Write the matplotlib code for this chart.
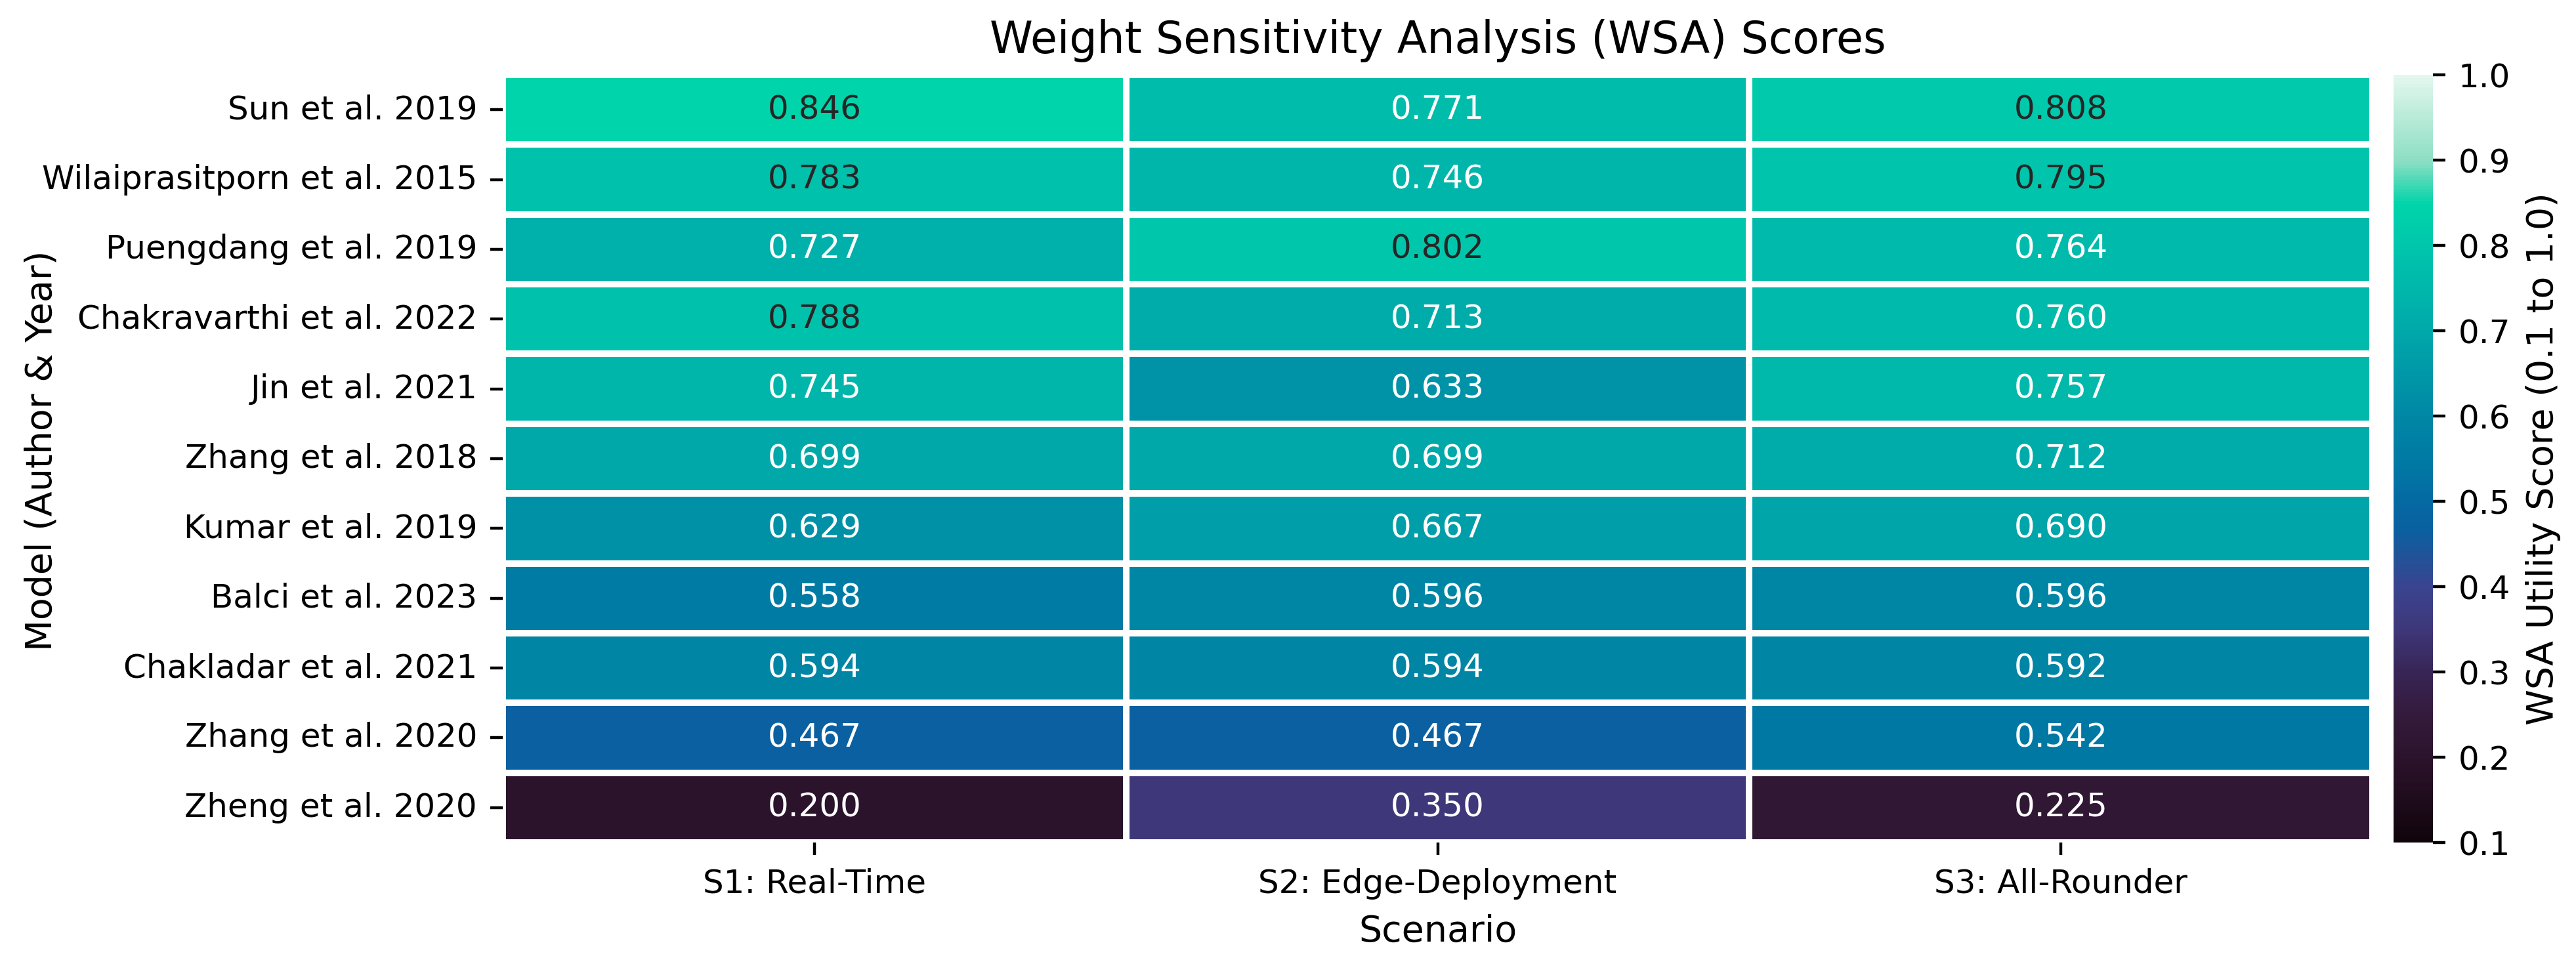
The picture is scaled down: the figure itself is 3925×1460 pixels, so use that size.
import numpy as np
import pandas as pd
import matplotlib
matplotlib.use("Agg")
import matplotlib.pyplot as plt
import seaborn as sns
from matplotlib.colors import LinearSegmentedColormap

models = [
    "Sun et al. 2019",
    "Wilaiprasitporn et al. 2015",
    "Puengdang et al. 2019",
    "Chakravarthi et al. 2022",
    "Jin et al. 2021",
    "Zhang et al. 2018",
    "Kumar et al. 2019",
    "Balci et al. 2023",
    "Chakladar et al. 2021",
    "Zhang et al. 2020",
    "Zheng et al. 2020",
]
scenarios = ["S1: Real-Time", "S2: Edge-Deployment", "S3: All-Rounder"]

s1_real_time = [0.846, 0.783, 0.727, 0.788, 0.745, 0.699, 0.629, 0.558, 0.594, 0.467, 0.200]
s2_edge_deployment = [0.771, 0.746, 0.802, 0.713, 0.633, 0.699, 0.667, 0.596, 0.594, 0.467, 0.350]
s3_all_rounder = [0.808, 0.795, 0.764, 0.760, 0.757, 0.712, 0.690, 0.596, 0.592, 0.542, 0.225]

cbar_ticks = [0.1, 0.2, 0.3, 0.4, 0.5, 0.6, 0.7, 0.8, 0.9, 1.0]

df = pd.DataFrame(
    {scenarios[0]: s1_real_time, scenarios[1]: s2_edge_deployment, scenarios[2]: s3_all_rounder},
    index=models,
)

# custom colormap approximating the reference (value -> colour), range 0.1..1.0
anchors = [
    (0.10, "#10040c"),
    (0.20, "#2c132c"),
    (0.25, "#341b3c"),
    (0.30, "#382556"),
    (0.35, "#3e377a"),
    (0.40, "#3a4490"),
    (0.467, "#0a60a0"),
    (0.50, "#0569a2"),
    (0.542, "#0078a4"),
    (0.60, "#0087a5"),
    (0.70, "#00a8aa"),
    (0.80, "#00c6ac"),
    (0.85, "#00d4aa"),
    (0.90, "#8cdec3"),
    (1.00, "#e3f7ee"),
]
vmin, vmax = 0.1, 1.0
cmap = LinearSegmentedColormap.from_list(
    "wsa", [((v - vmin) / (vmax - vmin), c) for v, c in anchors]
)

W, H, DPI = 3925, 1460, 400
fig = plt.figure(figsize=(W / DPI, H / DPI), dpi=DPI)
ax = fig.add_axes([766 / W, 1 - 1284 / H, (3615 - 766) / W, (1284 - 114) / H])
cax = fig.add_axes([3647 / W, 1 - 1284 / H, (3707 - 3647) / W, (1284 - 114) / H])

sns.heatmap(
    df, ax=ax, cbar_ax=cax, cmap=cmap, vmin=vmin, vmax=vmax,
    annot=True, fmt=".3f", annot_kws={"size": 9},
    linewidths=1.5, linecolor="white",
    cbar_kws={"label": "WSA Utility Score (0.1 to 1.0)", "ticks": cbar_ticks},
)

ax.set_title("Weight Sensitivity Analysis (WSA) Scores", fontsize=12)
ax.set_xlabel("Scenario", fontsize=10)
ax.set_ylabel("Model (Author & Year)", fontsize=10)
ax.yaxis.set_label_coords(-0.237, 0.51)
ax.tick_params(axis="both", labelsize=9)
plt.setp(ax.get_yticklabels(), rotation=0)
plt.setp(ax.get_xticklabels(), rotation=0)

cax.tick_params(labelsize=9)
cax.yaxis.label.set_size(10)

fig.savefig("out.png", dpi=DPI)
